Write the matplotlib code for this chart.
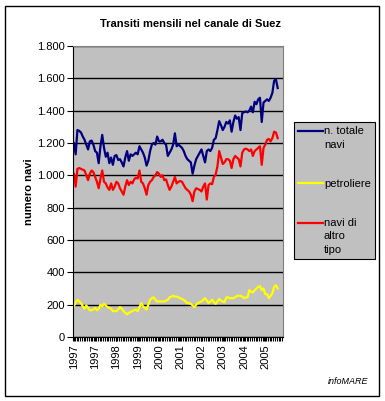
import numpy as np
import matplotlib.pyplot as plt
from matplotlib.patches import Rectangle
from matplotlib.legend_handler import HandlerLine2D

plt.rcParams['font.family'] = ['Liberation Sans', 'DejaVu Sans']

# monthly values
totale = [1200, 1130, 1280, 1275, 1265, 1240, 1220, 1190, 1160, 1210, 1215, 1190,
          1150, 1140, 1075, 1180, 1250, 1170, 1115, 1140, 1075, 1110, 1065, 1120,
          1125, 1095, 1100, 1080, 1055, 1110, 1150, 1090, 1130, 1120, 1130, 1140,
          1130, 1180, 1160, 1140, 1110, 1060, 1090, 1150, 1190, 1200, 1190, 1240,
          1210, 1210, 1220, 1200, 1190, 1120, 1140, 1160, 1190, 1260, 1180, 1190,
          1180, 1170, 1150, 1120, 1100, 1090, 1080, 1010, 1060, 1100, 1120, 1140,
          1160, 1120, 1080, 1150, 1160, 1150, 1170, 1220, 1230, 1280, 1335, 1310,
          1280, 1300, 1330, 1320, 1340, 1270, 1330, 1370, 1350, 1360, 1280, 1385,
          1390, 1395, 1390, 1400, 1425, 1390, 1455, 1440, 1470, 1480, 1330, 1450,
          1460, 1470, 1460, 1480, 1510, 1585, 1595, 1540]
petroliere = [190, 215, 230, 220, 210, 190, 175, 195, 180, 165, 165, 170,
              180, 165, 175, 200, 190, 205, 195, 185, 180, 175, 160, 160,
              160, 170, 185, 175, 160, 150, 140, 150, 155, 160, 165, 170,
              160, 185, 210, 190, 180, 170, 200, 230, 240, 245, 230, 220,
              220, 220, 220, 220, 225, 230, 245, 250, 255, 250, 250, 245,
              240, 235, 230, 220, 210, 210, 205, 195, 185, 200, 210, 215,
              220, 230, 240, 225, 210, 220, 230, 215, 205, 220, 235, 225,
              220, 215, 245, 245, 240, 240, 240, 245, 255, 255, 255, 250,
              240, 245, 245, 290, 280, 275, 290, 300, 310, 315, 290, 300,
              265, 265, 240, 255, 270, 310, 320, 300]
altro = [1010, 930, 1040, 1045, 1040, 1035, 1030, 1000, 970, 1010, 1030, 1020,
         990, 960, 920, 980, 1030, 960, 950, 925, 910, 950, 910, 930,
         960, 950, 920, 900, 880, 930, 970, 940, 960, 950, 975, 985,
         980, 1030, 960, 950, 920, 880, 940, 960, 970, 990, 1000, 1020,
         1010, 990, 1000, 970, 975, 940, 910, 930, 960, 990, 950, 960,
         965, 960, 940, 920, 910, 900, 880, 840, 900, 920, 915, 910,
         900, 930, 950, 850, 940, 950, 945, 990, 1005, 1055, 1150, 1110,
         1070, 1080, 1100, 1100, 1090, 1045, 1100, 1120, 1110, 1100, 1055, 1140,
         1160, 1165, 1160, 1150, 1160, 1120, 1150, 1160, 1170, 1180, 1065, 1170,
         1190, 1220, 1225, 1210, 1230, 1270, 1265, 1230]
anni = ['1997', '1997', '1998', '1999', '2000', '2001', '2002', '2003', '2004', '2005']


class TopLine(HandlerLine2D):
    """legend line placed on the first text row instead of the middle"""
    def __init__(self, dy, **kw):
        super().__init__(**kw)
        self.dy = dy

    def create_artists(self, legend, orig_handle, xdescent, ydescent,
                       width, height, fontsize, trans):
        return super().create_artists(legend, orig_handle, xdescent, ydescent - 2 * self.dy,
                                      width, height, fontsize, trans)


W, H = 385, 401
fig = plt.figure(figsize=(W / 100, H / 100), dpi=100)
ax = fig.add_axes([73 / W, 64 / H, 210 / W, 291 / H])
ax.set_facecolor('#C0C0C0')

x = np.arange(len(totale))
l1, = ax.plot(x, totale, color='#000080', lw=1.6, label='n. totale\nnavi')
l2, = ax.plot(x, petroliere, color='#FFFF00', lw=1.6, label='petroliere')
l3, = ax.plot(x, altro, color='#FF0000', lw=1.6, label='navi di\naltro\ntipo')

ax.set_ylim(0, 1800)
ax.set_xlim(-0.5, 118)
yt = np.arange(0, 1801, 200)
ax.set_yticks(yt)
ax.set_yticklabels([f'{v:,}'.replace(',', '.') for v in yt], fontsize=8)
ax.yaxis.grid(True, color='black', lw=1)
ax.set_axisbelow(True)
ax.set_xticks(np.arange(0, 109, 12))
ax.set_xticklabels(anni, rotation=90, fontsize=8)
ax.set_xticks(np.arange(-0.5, 118, 1), minor=True)
ax.tick_params(axis='x', which='both', length=3, width=0.8, pad=2)
ax.tick_params(axis='y', length=4, width=0.8, pad=2)
for s in ['top', 'right']:
    ax.spines[s].set_color('#808080')
ax.set_ylabel('numero navi', fontsize=8, fontweight='bold', labelpad=2)

fig.text(190 / W, 1 - 24 / H, 'Transiti mensili nel canale di Suez',
         ha='center', va='center', fontsize=8, fontweight='bold')

leg = ax.legend(loc='upper left', bbox_to_anchor=(294 / W, 1 - 122 / H, 81 / W, 0),
                bbox_transform=fig.transFigure, mode='expand', fontsize=8,
                frameon=True, fancybox=False, edgecolor='black', facecolor='#C0C0C0',
                framealpha=1, handlelength=2.2, handletextpad=0.1, labelspacing=2.6,
                borderpad=0.4, borderaxespad=0,
                handler_map={l1: TopLine(5), l2: TopLine(0), l3: TopLine(10)})
leg.get_frame().set_linewidth(0.8)
for t in leg.get_texts():
    t.set_linespacing(1.45)

fig.text(348 / W, 1 - 381 / H, 'infoMARE', ha='center', va='center',
         fontsize=6.5, style='italic')
fig.patches.append(Rectangle((5 / W, 5 / H), 374 / W, 390 / H, transform=fig.transFigure,
                             fill=False, edgecolor='black', lw=1))

fig.savefig('out.png', dpi=100)
